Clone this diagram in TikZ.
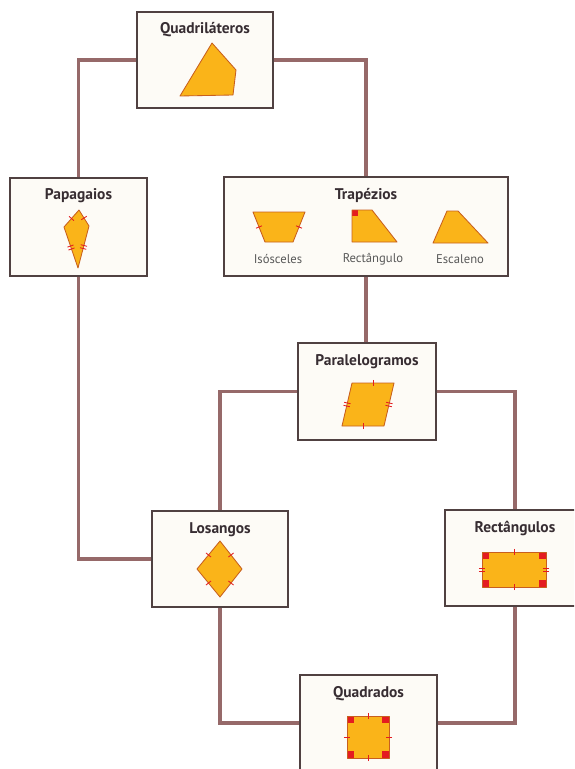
\documentclass[tikz,border=0pt]{standalone}
\usepackage{fontspec}
\setmainfont{PT Sans}
\usepackage{tikz}
\usetikzlibrary{positioning, calc}
\definecolor{moldura}{RGB}{80,65,65}
\definecolor{ligacao}{RGB}{150,105,105}
\definecolor{fundo}{RGB}{253,251,246}
\definecolor{laranja}{RGB}{250,180,25}
\definecolor{laranjaesc}{RGB}{200,95,30}
\definecolor{vermelho}{RGB}{228,28,32}
\definecolor{texto}{RGB}{55,45,50}
\newcommand{\traco}[2]{\draw[marca] ($(#1)!0.5!(#2)!2.3pt!90:(#2)$) -- ($(#1)!0.5!(#2)!2.3pt!-90:(#2)$);}
\newcommand{\tracoduplo}[2]{%
	\draw[marca] ($(#1)!0.5!(#2)!1.1pt!(#2)!2.3pt!90:(#2)$) -- ($(#1)!0.5!(#2)!1.1pt!(#2)!2.3pt!-90:(#2)$);
	\draw[marca] ($(#1)!0.5!(#2)!-1.1pt!(#2)!2.3pt!90:(#2)$) -- ($(#1)!0.5!(#2)!-1.1pt!(#2)!2.3pt!-90:(#2)$);}

\begin{document}
\begin{tikzpicture}[x=0.025cm, y=-0.025cm,
		caixa/.style={draw=moldura, fill=fundo, line width=1.1pt, inner sep=0pt},
		titulo/.style={font=\fontsize{11}{13}\selectfont\bfseries, text=texto,
			inner sep=1pt, text height=8pt, text depth=2.3pt},
		legenda/.style={font=\fontsize{9}{11}\selectfont, text=black!65},
		liga/.style={draw=ligacao, line width=2.4pt},
		forma/.style={fill=laranja, draw=laranjaesc, line width=0.6pt, line join=round},
		marca/.style={draw=vermelho, line width=0.6pt},
		reto/.style={fill=vermelho}]
				\useasboundingbox[fill=white] (0,0) rectangle (574,769);
				\clip (0,0) rectangle (574,769);
				
				\node[caixa, minimum width=3.4cm, minimum height=2.4cm] (Quad) at (205,60) {};
				\node[titulo, below=7pt of Quad.north] (QuadT) {Quadriláteros};
				
				\node[caixa, minimum width=3.42cm, minimum height=2.45cm] (Papa) at (78.5,227) {};
				\node[titulo, below=7pt of Papa.north] (PapaT) {Papagaios};
				
				\node[caixa, minimum width=7.1cm, minimum height=2.47cm] (Trap) at (366,226.5) {};
				\node[titulo, below=7pt of Trap.north] (TrapT) {Trapézios};
				\node[legenda] (Iso) at (278,259) {Isósceles};
				\node[legenda] (Ret) at (373,259) {Rectângulo};
				\node[legenda] (Esc) at (460,259) {Escaleno};
				
				\node[caixa, minimum width=3.45cm, minimum height=2.42cm] (Para) at (367,391.5) {};
				\node[titulo, below=7pt of Para.north] (ParaT) {Paralelogramos};
				
				\node[caixa, minimum width=3.4cm, minimum height=2.4cm] (Los) at (220,559) {};
				\node[titulo, below=7pt of Los.north] (LosT) {Losangos};
				
				\node[caixa, minimum width=3.5cm, minimum height=2.4cm] (Rect) at (515,558) {};
				\node[titulo, below=7pt of Rect.north] (RectT) {Rectângulos};
				
				\node[caixa, minimum width=3.42cm, minimum height=2.4cm] (Qdr) at (368.5,723) {};
				\node[titulo, below=7pt of Qdr.north] (QdrT) {Quadrados};
				
				\draw[liga] (Quad.west) -| (Papa.north);
				\draw[liga] (Quad.east) -| (Trap.north);
				\draw[liga] (Papa.south) |- (Los.west);
				\draw[liga] (Trap.south) -- (Trap.south |- Para.north);
				\draw[liga] (Para.west) -| (Los.north);
				\draw[liga] (Para.east) -| (Rect.north);
				\draw[liga] (Los.south) |- (Qdr.west);
				\draw[liga] (Rect.south) |- (Qdr.east);
				
				\draw[forma] (212,43) -- (236,70) -- (233,95) -- (180,96) -- cycle;
				
				\coordinate (k1) at (79,210);
				\coordinate (k2) at (89,226);
				\coordinate (k3) at (78,268);
				\coordinate (k4) at (64,227);
				\draw[forma] (k1) -- (k2) -- (k3) -- (k4) -- cycle;
				\traco{k1}{k2} \traco{k4}{k1}
				\tracoduplo{k2}{k3} \tracoduplo{k3}{k4}
				
				\coordinate (i1) at (253,212);
				\coordinate (i2) at (305,212);
				\coordinate (i3) at (293,242);
				\coordinate (i4) at (265,242);
				\draw[forma] (i1) -- (i2) -- (i3) -- (i4) -- cycle;
				\traco{i2}{i3} \traco{i4}{i1}
				
				\fill[laranja] (352,210) -- (372,210) -- (397,242) -- (352,242) -- cycle;
				\fill[reto] (352,210) rectangle (358,216);
				\draw[forma, fill=none] (352,210) -- (372,210) -- (397,242) -- (352,242) -- cycle;
				
				\draw[forma] (447,211) -- (458,211) -- (488,243) -- (433,243) -- cycle;
				
				\coordinate (p1) at (352,383);
				\coordinate (p2) at (394,383);
				\coordinate (p3) at (384,426);
				\coordinate (p4) at (342,426);
				\draw[forma] (p1) -- (p2) -- (p3) -- (p4) -- cycle;
				\traco{p1}{p2} \traco{p3}{p4}
				\tracoduplo{p2}{p3} \tracoduplo{p4}{p1}
				
				\coordinate (l1) at (220,541);
				\coordinate (l2) at (242,569);
				\coordinate (l3) at (220,597);
				\coordinate (l4) at (197,569);
				\draw[forma] (l1) -- (l2) -- (l3) -- (l4) -- cycle;
				\traco{l1}{l2} \traco{l2}{l3} \traco{l3}{l4} \traco{l4}{l1}
				
				\coordinate (r1) at (482,552);
				\coordinate (r2) at (546,552);
				\coordinate (r3) at (546,587);
				\coordinate (r4) at (482,587);
				\fill[laranja] (r1) rectangle (r3);
				\fill[reto] (r1) rectangle ++(7,7);
				\fill[reto] (r2) rectangle ++(-7,7);
				\fill[reto] (r3) rectangle ++(-7,-7);
				\fill[reto] (r4) rectangle ++(7,-7);
				\draw[forma, fill=none] (r1) rectangle (r3);
				\traco{r1}{r2} \traco{r3}{r4}
				\tracoduplo{r2}{r3} \tracoduplo{r4}{r1}
				
				\coordinate (q1) at (347,716);
				\coordinate (q2) at (389,716);
				\coordinate (q3) at (389,758);
				\coordinate (q4) at (347,758);
				\fill[laranja] (q1) rectangle (q3);
				\fill[reto] (q1) rectangle ++(7,7);
				\fill[reto] (q2) rectangle ++(-7,7);
				\fill[reto] (q3) rectangle ++(-7,-7);
				\fill[reto] (q4) rectangle ++(7,-7);
				\draw[forma, fill=none] (q1) rectangle (q3);
				\traco{q1}{q2} \traco{q2}{q3} \traco{q3}{q4} \traco{q4}{q1}
			\end{tikzpicture}
\end{document}
